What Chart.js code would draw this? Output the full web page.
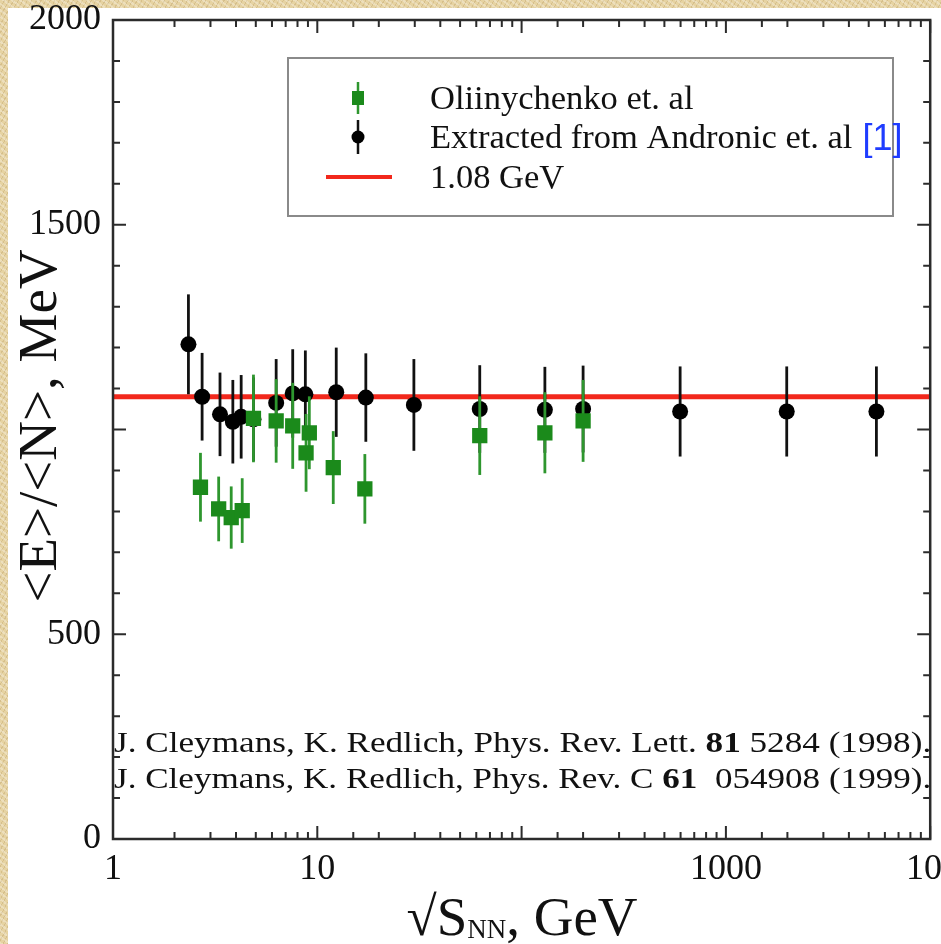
<!DOCTYPE html>
<html>
<head>
<meta charset="utf-8">
<title>Mean energy per hadron vs collision energy</title>
<script src="https://cdn.jsdelivr.net/npm/chart.js@4.4.1/dist/chart.umd.min.js"></script>
<style>
  html, body { margin: 0; padding: 0; }
  body {
    width: 941px; height: 944px; overflow: hidden;
    background-color: #e6d3a2;
    background-image:
      repeating-linear-gradient(37deg, rgba(255,255,255,0.28) 0 2px, rgba(0,0,0,0) 2px 5px),
      repeating-linear-gradient(-61deg, rgba(140,100,40,0.18) 0 1px, rgba(0,0,0,0) 1px 4px);
  }
  canvas { display: block; }
</style>
</head>
<body>
<canvas id="energyChart" width="941" height="944"></canvas>
<script>
// sqrt(s_NN) in GeV, <E>/<N> in MeV
const oliinychenkoSqrtS = [2.68, 3.29, 3.79, 4.29, 4.87, 6.29, 7.58, 8.81, 9.14, 11.97, 17.09, 62.4, 130, 200];
const oliinychenkoEN    = [859, 806, 785, 802, 1027, 1021, 1009, 943, 992, 907, 855, 985, 992, 1021];
const oliinychenkoErr   = [84, 79, 76, 79, 107, 102, 105, 95, 89, 89, 85, 96, 99, 100];

const andronicSqrtS = [2.34, 2.73, 3.34, 3.86, 4.24, 4.87, 6.29, 7.58, 8.74, 12.38, 17.28, 29.7, 62.4, 130, 200, 597, 1985, 5454];
const andronicEN    = [1208, 1080, 1037, 1019, 1031, 1025, 1065, 1088, 1086, 1091, 1078, 1060, 1050, 1048, 1050, 1044, 1044, 1044];
const andronicErr   = [122, 107, 102, 102, 102, 102, 107, 108, 107, 109, 108, 112, 107, 105, 106, 110, 110, 110];

const referenceLevel = 1080; // 1.08 GeV

const seriesLabels = ['Oliinychenko et. al', 'Extracted from Andronic et. al', '1.08 GeV'];
const xTickLabels = { 1: '1', 10: '10', 1000: '1000', 10000: '10\u2074' };
const yTickLabels = [0, 500, 1500, 2000];

const citations = [
    [['J. Cleymans, K. Redlich, Phys. Rev. Lett. ', false], ['81', true], [' 5284 (1998).', false]],
    [['J. Cleymans, K. Redlich, Phys. Rev. C ', false], ['61', true], ['  054908 (1999).', false]]
];

const SERIF = '"Liberation Serif", "Times New Roman", serif';

const toPoints = (xs, ys) => xs.map((x, i) => ({ x: x, y: ys[i] }));

/*------------------white sheet on the parchment------------------------*/
const paper = {
    id: 'paper',
    beforeDraw(chart) {
        const c = chart.ctx;
        c.save();
        c.fillStyle = '#ffffff';
        c.fillRect(8, 8, chart.width - 8, chart.height - 8);
        c.restore();
    }
};

/*------------------vertical error bars, drawn under each dataset's markers------------------------*/
const errorBars = {
    id: 'errorBars',
    beforeDatasetDraw(chart, args) {
        const ds = chart.data.datasets[args.index];
        if (!ds.errors) return;
        const c = chart.ctx;
        const xs = chart.scales.x;
        const ys = chart.scales.y;
        c.save();
        c.strokeStyle = ds.errorColor;
        c.lineWidth = 2.8;
        ds.data.forEach((p, i) => {
            const px = xs.getPixelForValue(p.x);
            c.beginPath();
            c.moveTo(px, ys.getPixelForValue(p.y - ds.errors[i]));
            c.lineTo(px, ys.getPixelForValue(p.y + ds.errors[i]));
            c.stroke();
        });
        c.restore();
    }
};

/*------------------box frame with inward ticks on all four sides------------------------*/
const frame = {
    id: 'frame',
    afterDatasetsDraw(chart) {
        const c = chart.ctx;
        const a = chart.chartArea;
        const xs = chart.scales.x;
        const ys = chart.scales.y;
        c.save();
        c.strokeStyle = '#2b2b2b';
        c.lineWidth = 2.5;
        c.strokeRect(a.left, a.top, a.right - a.left, a.bottom - a.top);
        c.lineWidth = 2;
        c.beginPath();
        xs.ticks.forEach(t => {
            const px = xs.getPixelForValue(t.value);
            const lg = Math.log10(t.value);
            const len = Math.abs(lg - Math.round(lg)) < 1e-6 ? 13 : 7;
            c.moveTo(px, a.bottom);
            c.lineTo(px, a.bottom - len);
            c.moveTo(px, a.top);
            c.lineTo(px, a.top + len);
        });
        ys.ticks.forEach(t => {
            const py = ys.getPixelForValue(t.value);
            const len = t.value % 500 === 0 ? 13 : 7;
            c.moveTo(a.left, py);
            c.lineTo(a.left + len, py);
            c.moveTo(a.right, py);
            c.lineTo(a.right - len, py);
        });
        c.stroke();
        c.restore();
    }
};

/*------------------legend box------------------------*/
const legendBox = {
    id: 'legendBox',
    afterDraw(chart) {
        const c = chart.ctx;
        const [green, black, red] = chart.data.datasets;
        const mx = 358;
        const rows = [98, 137, 177];
        const baselines = [109, 148, 188];
        c.save();
        c.strokeStyle = '#8a8a8a';
        c.lineWidth = 2;
        c.strokeRect(288, 58, 605, 158);

        c.lineWidth = 2.5;
        c.strokeStyle = green.errorColor;
        c.beginPath(); c.moveTo(mx, 82); c.lineTo(mx, 114); c.stroke();
        c.fillStyle = green.backgroundColor;
        c.fillRect(mx - 6, rows[0] - 7, 12, 14);

        c.strokeStyle = black.errorColor;
        c.beginPath(); c.moveTo(mx, 120); c.lineTo(mx, 154); c.stroke();
        c.fillStyle = black.backgroundColor;
        c.beginPath(); c.arc(mx, rows[1], 6.5, 0, 2 * Math.PI); c.fill();

        c.strokeStyle = red.borderColor;
        c.lineWidth = 4;
        c.beginPath(); c.moveTo(326, rows[2]); c.lineTo(392, rows[2]); c.stroke();

        c.font = '34.5px ' + SERIF;
        c.fillStyle = '#111';
        c.textBaseline = 'alphabetic';
        chart.data.datasets.forEach((ds, i) => c.fillText(ds.label, 430, baselines[i]));
        const w = c.measureText(black.label).width;
        c.font = '36px "Liberation Sans", sans-serif';
        c.fillStyle = '#1f3cff';
        c.fillText('[1]', 430 + w + 10, 150);
        c.restore();
    }
};

/*------------------axis titles and references------------------------*/
const captions = {
    id: 'captions',
    afterDraw(chart) {
        const c = chart.ctx;
        const a = chart.chartArea;

        // y title
        c.save();
        c.fillStyle = '#111';
        c.translate(56, 426);
        c.rotate(-Math.PI / 2);
        c.font = '55px ' + SERIF;
        c.textAlign = 'center';
        c.fillText('<E>/<N>, MeV', 0, 0);
        c.restore();

        // x title with subscript
        c.save();
        c.fillStyle = '#111';
        const big = '55px ' + SERIF;
        const small = '27px ' + SERIF;
        c.font = big;
        const w1 = c.measureText('\u221AS').width;
        const w3 = c.measureText(', GeV').width;
        c.font = small;
        const w2 = c.measureText('NN').width;
        const x0 = 522 - (w1 + w2 + w3) / 2;
        const base = 935;
        c.font = big;
        c.fillText('\u221AS', x0, base);
        c.font = small;
        c.fillText('NN', x0 + w1, base + 3);
        c.font = big;
        c.fillText(', GeV', x0 + w1 + w2, base);
        c.restore();

        // references, stretched across the frame
        const width = a.right - a.left;
        citations.forEach((line, k) => {
            c.save();
            c.fillStyle = '#111';
            let total = 0;
            line.forEach(([t, bold]) => {
                c.font = (bold ? 'bold ' : '') + '30px ' + SERIF;
                total += c.measureText(t).width;
            });
            c.translate(a.left + 1, 752 + k * 36);
            c.scale(width / total, 1);
            let x = 0;
            line.forEach(([t, bold]) => {
                c.font = (bold ? 'bold ' : '') + '30px ' + SERIF;
                c.fillText(t, x, 0);
                x += c.measureText(t).width;
            });
            c.restore();
        });
    }
};

const ctx = document.getElementById('energyChart').getContext('2d');
new Chart(ctx, {
    type: 'scatter',
    data: {
        datasets: [{
            label: seriesLabels[0],
            data: toPoints(oliinychenkoSqrtS, oliinychenkoEN),
            errors: oliinychenkoErr,
            errorColor: '#2e962e',
            pointStyle: 'rect',
            pointRadius: 10.8,
            backgroundColor: '#1b8a1b',
            borderWidth: 0,
            order: 0
        }, {
            label: seriesLabels[1],
            data: toPoints(andronicSqrtS, andronicEN),
            errors: andronicErr,
            errorColor: '#111111',
            pointStyle: 'circle',
            pointRadius: 8,
            backgroundColor: '#000000',
            borderWidth: 0,
            order: 1
        }, {
            label: seriesLabels[2],
            type: 'line',
            data: [{ x: 1, y: referenceLevel }, { x: 10000, y: referenceLevel }],
            borderColor: '#f2281c',
            borderWidth: 5,
            pointRadius: 0,
            order: 2
        }]
    },
    options: {
        responsive: false,
        animation: false,
        devicePixelRatio: 1,
        layout: { padding: { top: 20, right: 9, left: 0, bottom: 0 } },
        plugins: {
            legend: { display: false },
            tooltip: { enabled: false }
        },
        scales: {
            x: {
                type: 'logarithmic',
                min: 1,
                max: 10000,
                border: { display: false },
                grid: { display: false, drawTicks: false },
                ticks: {
                    autoSkip: false,
                    maxRotation: 0,
                    padding: 9,
                    color: '#111',
                    font: { family: SERIF, size: 36 },
                    callback: v => xTickLabels[Math.round(v)] && Math.abs(v - Math.round(v)) < 1e-6 ? xTickLabels[Math.round(v)] : ''
                },
                afterFit: s => { s.height = 105; s.paddingLeft = 0; s.paddingRight = 0; }
            },
            y: {
                min: 0,
                max: 2000,
                border: { display: false },
                grid: { display: false, drawTicks: false },
                ticks: {
                    stepSize: 100,
                    autoSkip: false,
                    padding: 12,
                    color: '#111',
                    font: { family: SERIF, size: 36 },
                    callback: v => yTickLabels.includes(v) ? String(v) : ''
                },
                afterFit: s => { s.width = 113; s.paddingTop = 0; s.paddingBottom = 0; }
            }
        }
    },
    plugins: [paper, errorBars, frame, legendBox, captions]
});
</script>
</body>
</html>
